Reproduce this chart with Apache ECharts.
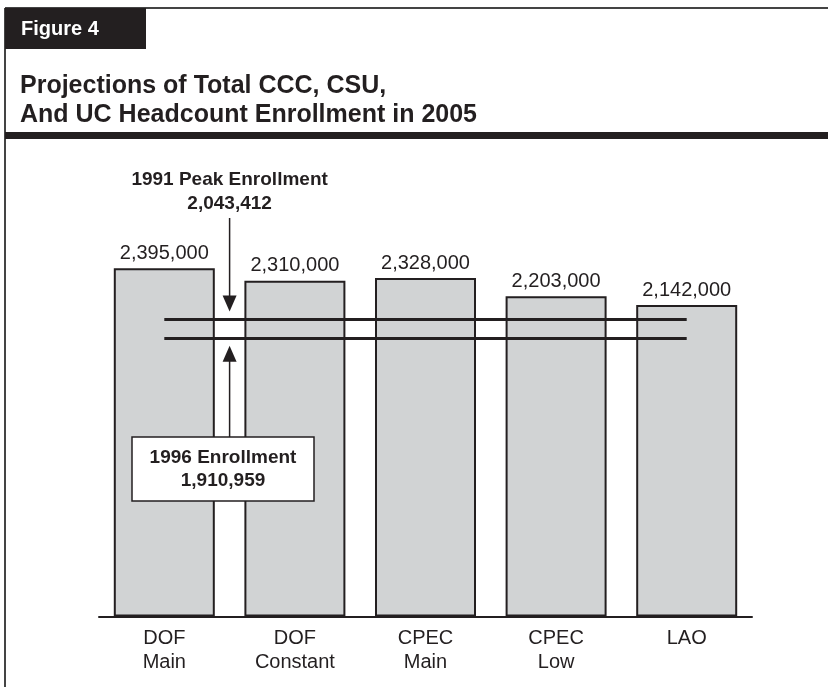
<!DOCTYPE html>
<html><head><meta charset="utf-8">
<script src="https://cdn.jsdelivr.net/npm/echarts@6/dist/echarts.min.js"></script>
<style>html,body{margin:0;padding:0;background:#fff}#c{width:828px;height:687px}</style>
</head><body><div id="c"></div>
<script>
const categories = ['DOF\nMain', 'DOF\nConstant', 'CPEC\nMain', 'CPEC\nLow', 'LAO'];
const enrollment = [2395000, 2310000, 2328000, 2203000, 2142000];
const peak1991 = 2043412;
const enroll1996 = 1910959;
const figureLabel = 'Figure 4';
const titleLines = ['Projections of Total CCC, CSU,', 'And UC Headcount Enrollment in 2005'];
const peakLabel = ['1991 Peak Enrollment', '2,043,412'];
const enrollLabel = ['1996 Enrollment', '1,910,959'];

const ink = '#231f20';
const font = '"Liberation Sans", Arial, Helvetica, sans-serif';
const fmt = v => v.toLocaleString('en-US');
const chart = echarts.init(document.getElementById('c'), null, {renderer: 'canvas'});
chart.setOption({
  animation: false,
  backgroundColor: '#fff',
  textStyle: {fontFamily: font},
  grid: {left: 99, right: 76, top: 253, bottom: 70.5, containLabel: false},
  xAxis: {type: 'category', data: categories,
    axisLine: {lineStyle: {color: ink, width: 2}}, axisTick: {show: false},
    axisLabel: {fontSize: 20, lineHeight: 24, color: ink, margin: 10, interval: 0, fontFamily: font}},
  yAxis: {type: 'value', min: 0, max: 2500000, show: false, splitLine: {show: false}},
  series: [{
    type: 'bar', data: enrollment, barWidth: 101,
    itemStyle: {color: '#d1d3d4', borderColor: ink, borderWidth: 2},
    label: {show: true, position: 'top', distance: 5, fontSize: 20, color: ink, fontFamily: font,
      formatter: p => fmt(p.value)},
    markLine: {silent: true, symbol: 'none', label: {show: false},
      lineStyle: {color: ink, width: 3, type: 'solid'},
      data: [[{coord: [0, peak1991]}, {coord: [4, peak1991]}],
             [{coord: [0, enroll1996]}, {coord: [4, enroll1996]}]]}
  }]
});

const B = 5;
const x0 = chart.convertToPixel({xAxisIndex: 0}, 0);
const x1 = chart.convertToPixel({xAxisIndex: 0}, 1);
const xb = (x0 + x1) / 2;
const yPeak = chart.convertToPixel({yAxisIndex: 0}, peak1991);
const yEnr = chart.convertToPixel({yAxisIndex: 0}, enroll1996);
const tipUp = yPeak - 8, tipDn = yEnr + 7;
const boxTop = 437, boxBot = 501, boxL = 132, boxR = 314;
const Z = 100;
const bold = (txt, x, y, size, color, align) => ({type: 'text', x: x, y: y, z: Z + 2,
  style: {text: txt, fontSize: size, fontWeight: 'bold', fill: color, fontFamily: font,
    align: align || 'center', verticalAlign: 'middle'}});
chart.setOption({graphic: [
  {type: 'line', z: Z, shape: {x1: B, y1: 8, x2: B, y2: 687}, style: {stroke: '#444', lineWidth: 2}},
  {type: 'line', z: Z, shape: {x1: B, y1: 8, x2: 828, y2: 8}, style: {stroke: '#444', lineWidth: 2}},
  {type: 'rect', z: Z, shape: {x: B, y: 8, width: 146 - B, height: 41}, style: {fill: ink}},
  bold(figureLabel, 21, 29, 20, '#fff', 'left'),
  bold(titleLines[0], 20, 86, 25, ink, 'left'),
  bold(titleLines[1], 20, 115, 25, ink, 'left'),
  {type: 'rect', z: Z, shape: {x: B, y: 132, width: 828 - B, height: 7}, style: {fill: ink}},
  bold(peakLabel[0], xb, 180, 19, ink),
  bold(peakLabel[1], xb, 204, 19, ink),
  {type: 'line', z: Z, shape: {x1: xb, y1: 218, x2: xb, y2: tipUp - 10}, style: {stroke: ink, lineWidth: 1.5}},
  {type: 'polygon', z: Z, shape: {points: [[xb - 7, tipUp - 16], [xb + 7, tipUp - 16], [xb, tipUp]]}, style: {fill: ink}},
  {type: 'line', z: Z, shape: {x1: xb, y1: boxTop, x2: xb, y2: tipDn + 10}, style: {stroke: ink, lineWidth: 1.5}},
  {type: 'polygon', z: Z, shape: {points: [[xb - 7, tipDn + 16], [xb + 7, tipDn + 16], [xb, tipDn]]}, style: {fill: ink}},
  {type: 'rect', z: Z + 1, shape: {x: boxL, y: boxTop, width: boxR - boxL, height: boxBot - boxTop},
    style: {fill: '#fff', stroke: ink, lineWidth: 1.5}},
  bold(enrollLabel[0], (boxL + boxR) / 2, 458, 19, ink),
  bold(enrollLabel[1], (boxL + boxR) / 2, 481, 19, ink)
]});
</script>
</body></html>
